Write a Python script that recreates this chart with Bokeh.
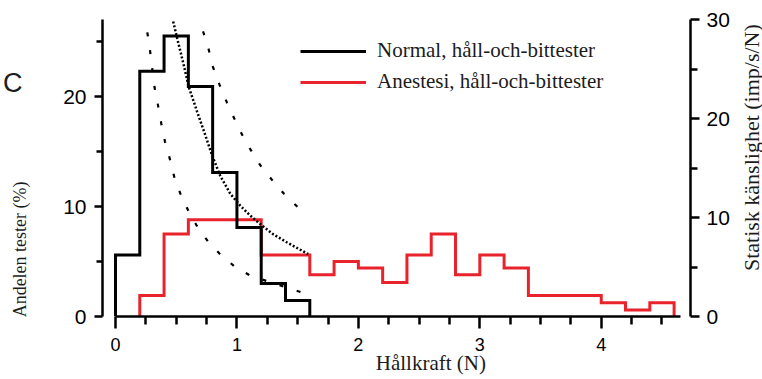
import numpy as np
from math import pi
from bokeh.plotting import figure
from bokeh.layouts import row
from bokeh.models import Range1d, LinearAxis, FixedTicker, Legend, LegendItem, Label
from bokeh.embed import file_html
from bokeh.resources import INLINE

# ---------------- data ----------------
normal_edges = [0.0, 0.2, 0.4, 0.6, 0.8, 1.0, 1.2, 1.4, 1.6]
normal_pct = [5.6, 22.3, 25.5, 20.9, 13.1, 8.1, 3.0, 1.45]

anest_edges = [0.2, 0.4, 0.6, 0.8, 1.0, 1.2, 1.4, 1.6, 1.8, 2.0, 2.2, 2.4,
               2.6, 2.8, 3.0, 3.2, 3.4, 3.6, 3.8, 4.0, 4.2, 4.4, 4.6]
anest_pct = [1.9, 7.5, 8.8, 8.8, 8.8, 5.6, 5.6, 3.8, 5.0, 4.4, 3.1,
             5.6, 7.5, 3.8, 5.6, 4.4, 1.9, 1.9, 1.9, 1.25, 0.6, 1.25]

# static sensitivity curves (right axis, imp/s/N)
mid_x = [0.475, 0.508, 0.562, 0.603, 0.672, 0.740, 0.795, 0.863, 0.945,
         1.027, 1.109, 1.205, 1.30, 1.41, 1.587]
mid_y = [29.8, 28.1, 25.4, 23.2, 20.7, 18.3, 16.3, 14.2, 12.4,
         11.2, 10.2, 9.2, 8.3, 7.5, 6.3]
upper_x = [0.721, 0.767, 0.803, 0.857, 0.918, 0.978, 1.041, 1.115, 1.191,
           1.295, 1.388, 1.505]
upper_y = [28.8, 27.0, 25.2, 23.4, 21.6, 20.0, 18.4, 16.8, 15.3,
           13.7, 12.4, 11.0]
lower_x = [0.262, 0.284, 0.303, 0.322, 0.349, 0.377, 0.407, 0.448, 0.486,
           0.541, 0.603, 0.677, 0.767, 0.869, 0.986, 1.115, 1.541]
lower_y = [28.7, 26.9, 25.0, 23.1, 21.4, 19.5, 17.7, 15.9, 14.0,
           12.2, 10.6, 9.0, 7.5, 6.2, 5.0, 4.1, 2.4]

x_ticks = [0, 1, 2, 3, 4]
x_minor = [0.25, 0.5, 0.75, 1.25, 1.5, 1.75, 2.25, 2.5, 2.75, 3.25, 3.5, 3.75, 4.25, 4.5]
left_ticks = [0, 10, 20]
left_minor = [5, 15, 25]
right_ticks = [0, 10, 20, 30]
right_minor = [5, 15, 25]

labels = ["Normal, håll-och-bittester", "Anestesi, håll-och-bittester"]
x_label = "Hållkraft (N)"
y_label = "Andelen tester (%)"
y2_label = "Statisk känslighet (imp/s/N)"
panel_letter = "C"

RED = "#e8232b"
SANS = "Liberation Sans"
SERIF = "Liberation Serif"
TXT = "#1c1c1c"


def hist_outline(edges, vals):
    xs = np.repeat(np.asarray(edges, dtype=float), 2)
    ys = np.concatenate([[0.0], np.repeat(np.asarray(vals, dtype=float), 2), [0.0]])
    return xs, ys


p = figure(width=732, height=379, x_range=Range1d(-0.107, 4.735),
           y_range=Range1d(0, 27), output_backend="svg", toolbar_location=None,
           min_border_left=102, min_border_right=40, min_border_top=19,
           min_border_bottom=63)
p.extra_y_ranges = {"right": Range1d(0, 30)}
p.grid.visible = False
p.outline_line_color = None

nx, ny = hist_outline(normal_edges, normal_pct)
ax_, ay_ = hist_outline(anest_edges, anest_pct)

r_red = p.line(ax_, ay_, line_color=RED, line_width=3, line_join="miter")
r_black = p.line(nx, ny, line_color="black", line_width=3, line_join="miter")

p.line(mid_x, mid_y, y_range_name="right", line_color="black", line_width=2.5,
       line_dash="2 2")
p.line(upper_x, upper_y, y_range_name="right", line_color="black", line_width=2.2,
       line_dash="4 14")
p.line(lower_x, lower_y, y_range_name="right", line_color="black", line_width=2.2,
       line_dash="4 14")


def style_axis(ax, ticks, minor, font, size, standoff, major_out, minor_out):
    ax.ticker = FixedTicker(ticks=ticks, minor_ticks=minor)
    ax.axis_line_width = 2.5
    ax.axis_line_color = "black"
    ax.major_tick_line_width = 2.5
    ax.minor_tick_line_width = 2.5
    ax.major_tick_line_color = "black"
    ax.minor_tick_line_color = "black"
    ax.major_tick_in = 0
    ax.minor_tick_in = 0
    ax.major_tick_out = major_out
    ax.minor_tick_out = minor_out
    ax.major_label_text_font = font
    ax.major_label_text_font_size = size
    ax.major_label_text_color = "black"
    ax.major_label_standoff = standoff


def text_axis(ax, pos, text, font, size, standoff, orientation=None):
    """An axis with no line and no tick marks that only carries one text."""
    ax.ticker = FixedTicker(ticks=[pos], minor_ticks=[])
    ax.major_label_overrides = {pos: text}
    ax.axis_line_color = None
    ax.major_tick_line_color = None
    ax.minor_tick_line_color = None
    ax.major_tick_in = 0
    ax.major_tick_out = 0
    ax.minor_tick_in = 0
    ax.minor_tick_out = 0
    ax.major_label_text_font = font
    ax.major_label_text_font_size = size
    ax.major_label_text_color = TXT
    ax.major_label_standoff = standoff
    if orientation is not None:
        ax.major_label_orientation = orientation


xa = p.xaxis[0]
style_axis(xa, x_ticks, x_minor, SANS, "18px", 9, 12, 8)
xa.bounds = (0, 4.65)

ya = p.yaxis[0]
style_axis(ya, left_ticks, left_minor, SANS, "21px", 8, 8, 6)

ra = LinearAxis(y_range_name="right")
style_axis(ra, right_ticks, right_minor, SANS, "21px", 7, 9, 7)
p.add_layout(ra, "right")

# texts outside the plotting area, carried by tick-less axes
c_axis = LinearAxis()
text_axis(c_axis, 21.2, panel_letter, SANS, "27px", 38)
p.add_layout(c_axis, "left")

yl_axis = LinearAxis()
text_axis(yl_axis, 6.1, y_label, SERIF, "18px", -30, "vertical")
p.add_layout(yl_axis, "left")

xl_axis = LinearAxis()
text_axis(xl_axis, 2.597, x_label, SERIF, "21px", -3)
p.add_layout(xl_axis, "below")

legend = Legend(items=[LegendItem(label=labels[0], renderers=[r_black]),
                       LegendItem(label=labels[1], renderers=[r_red])],
                location=(198, 222))
legend.label_text_font = SERIF
legend.label_text_font_size = "21px"
legend.label_text_color = TXT
legend.glyph_width = 66
legend.glyph_height = 20
legend.label_height = 20
legend.label_standoff = 11
legend.spacing = 6
legend.padding = 0
legend.margin = 0
legend.border_line_alpha = 0
legend.background_fill_alpha = 0
p.add_layout(legend)

# narrow strip on the right that carries the right-hand axis title
p2 = figure(width=30, height=379, x_range=Range1d(0, 30), y_range=Range1d(0, 379),
            output_backend="svg", toolbar_location=None,
            x_axis_location=None, y_axis_location=None,
            min_border_left=0, min_border_right=0, min_border_top=0,
            min_border_bottom=0)
p2.grid.visible = False
p2.outline_line_color = None
p2.add_layout(Label(x=18.5, y=58, text=y2_label, angle=pi / 2,
                    text_align="left", text_baseline="middle",
                    text_font=SERIF, text_font_size="22px", text_color=TXT))

layout = row(p, p2)

open("out.html", "w").write(file_html(layout, INLINE))
